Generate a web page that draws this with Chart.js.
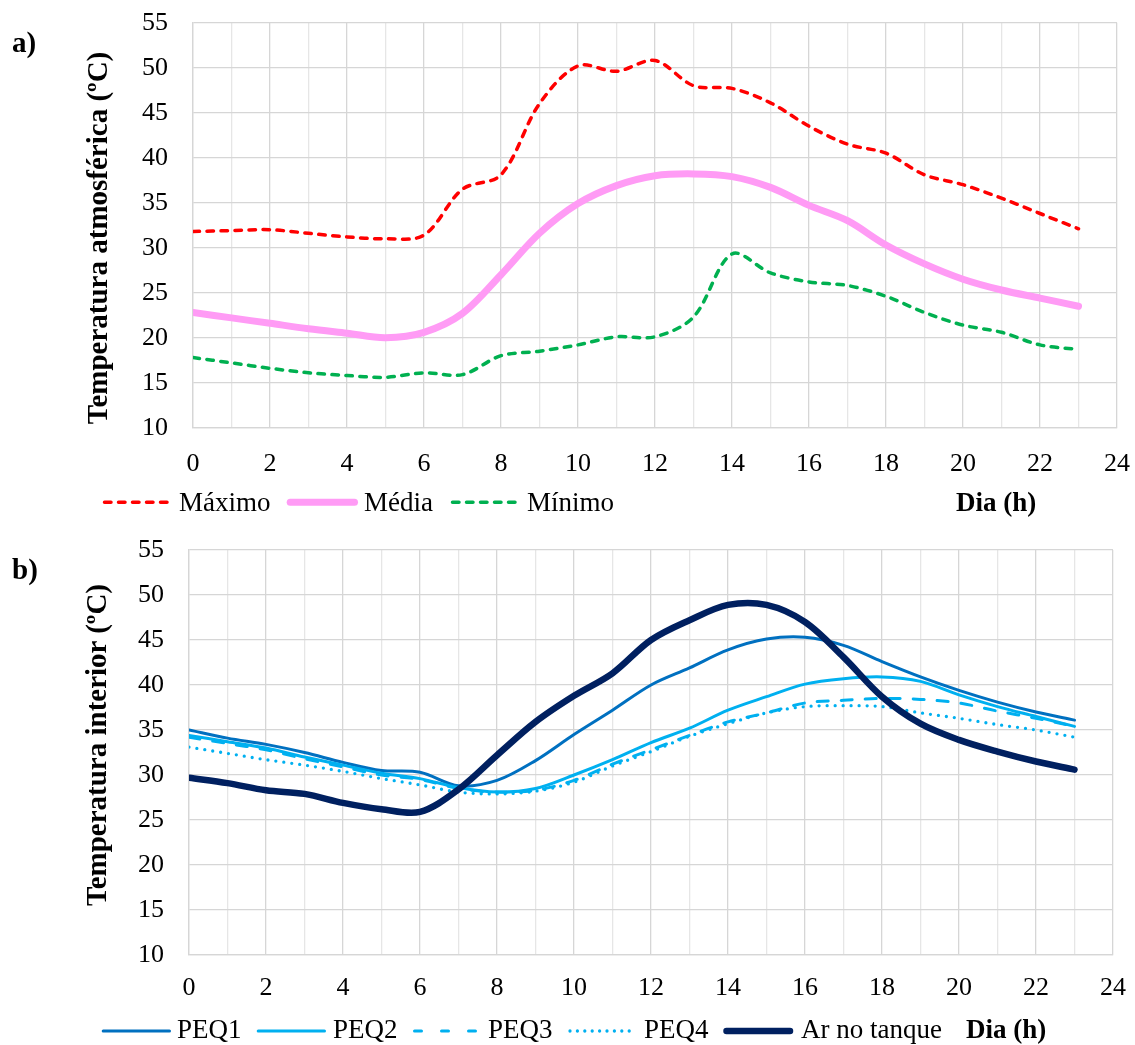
<!DOCTYPE html>
<html><head><meta charset="utf-8">
<script src="https://cdn.jsdelivr.net/npm/chart.js@4.4.1/dist/chart.umd.min.js"></script>
<style>
html,body{margin:0;padding:0;background:#fff;}
body{width:1135px;height:1045px;position:relative;overflow:hidden;font-family:'Liberation Serif','Times New Roman',serif;color:#000;}
canvas{position:absolute;left:0;}
.t{position:absolute;white-space:nowrap;line-height:1;}
.lab{font-size:29px;font-weight:bold;}
.leg{font-size:27px;}
.bold{font-weight:bold;}
.ytitle{font-size:29px;font-weight:bold;transform:translate(-50%,-50%) rotate(-90deg);}
svg{position:absolute;left:0;top:0;pointer-events:none;}
</style></head><body>
<canvas id="cA" width="1135" height="490" style="top:0px"></canvas>
<canvas id="cB" width="1135" height="520" style="top:500px"></canvas>

<div class="t lab" style="left:12px;top:28px">a)</div>
<div class="t lab" style="left:12px;top:555px">b)</div>
<div class="t ytitle" style="left:97px;top:238px">Temperatura atmosférica (ºC)</div>
<div class="t ytitle" style="left:96px;top:745px">Temperatura interior (ºC)</div>

<svg width="1135" height="1045">
  <line x1="104.5" y1="502.3" x2="171" y2="502.3" stroke="#FF0000" stroke-width="3.5" stroke-dasharray="6.5 7.5" stroke-linecap="round"/>
  <line x1="290.2" y1="502.3" x2="354.5" y2="502.3" stroke="#FF9BF5" stroke-width="7" stroke-linecap="round"/>
  <line x1="452.5" y1="502.3" x2="519" y2="502.3" stroke="#00B050" stroke-width="3.5" stroke-dasharray="6.5 7.5" stroke-linecap="round"/>

  <line x1="103.2" y1="1031" x2="169.5" y2="1031" stroke="#0070C0" stroke-width="3" stroke-linecap="round"/>
  <line x1="258.2" y1="1031" x2="324.5" y2="1031" stroke="#00B0F0" stroke-width="3" stroke-linecap="round"/>
  <line x1="414.5" y1="1031" x2="480.2" y2="1031" stroke="#00B0F0" stroke-width="3" stroke-dasharray="7 20" stroke-linecap="round"/>
  <line x1="570" y1="1031" x2="636" y2="1031" stroke="#00B0F0" stroke-width="3.3" stroke-dasharray="0 7.4" stroke-linecap="round"/>
  <line x1="726.5" y1="1031" x2="790" y2="1031" stroke="#002060" stroke-width="6.5" stroke-linecap="round"/>
</svg>

<div class="t leg" style="left:179px;top:489px">Máximo</div>
<div class="t leg" style="left:364px;top:489px">Média</div>
<div class="t leg" style="left:527px;top:489px">Mínimo</div>
<div class="t leg bold" style="left:956px;top:489px">Dia (h)</div>

<div class="t leg" style="left:177px;top:1016px">PEQ1</div>
<div class="t leg" style="left:333px;top:1016px">PEQ2</div>
<div class="t leg" style="left:488px;top:1016px">PEQ3</div>
<div class="t leg" style="left:644px;top:1016px">PEQ4</div>
<div class="t leg" style="left:801px;top:1016px">Ar no tanque</div>
<div class="t leg bold" style="left:966px;top:1016px">Dia (h)</div>

<script>
// ---- data ----
const hours = [0,1,2,3,4,5,6,7,8,9,10,11,12,13,14,15,16,17,18,19,20,21,22,23];
const seriesNamesA = ['Máximo','Média','Mínimo'];
const maximo = [31.8,31.9,32.0,31.6,31.2,31.0,31.4,36.5,38.1,46.0,50.2,49.6,50.8,48.0,47.7,46.1,43.5,41.5,40.5,38.1,37.0,35.5,33.8,32.1];
const media  = [22.8,22.2,21.6,21.0,20.5,20.0,20.6,22.7,27.0,31.6,34.9,36.9,38.0,38.2,37.9,36.7,34.7,33.0,30.3,28.2,26.5,25.3,24.4,23.5];
const minimo = [17.8,17.2,16.6,16.1,15.8,15.6,16.1,15.9,18.0,18.5,19.2,20.1,20.1,22.3,29.3,27.2,26.2,25.8,24.6,22.8,21.4,20.6,19.2,18.7];

const seriesNamesB = ['PEQ1','PEQ2','PEQ3','PEQ4','Ar no tanque'];
const peq1 = [35.0,34.1,33.4,32.5,31.4,30.5,30.3,28.8,29.4,31.6,34.5,37.2,40.0,41.9,43.9,45.1,45.3,44.4,42.6,40.9,39.4,38.1,37.0,36.1];
const peq2 = [34.4,33.7,33.0,32.0,31.1,30.2,29.6,28.6,28.1,28.5,30.0,31.7,33.6,35.2,37.2,38.7,40.1,40.7,40.9,40.4,38.9,37.6,36.5,35.4];
const peq3 = [34.2,33.5,32.8,31.8,30.9,30.0,29.5,28.5,28.1,28.3,29.4,31.2,32.8,34.4,35.9,36.9,38.0,38.3,38.5,38.4,38.0,37.1,36.3,35.4];
const peq4 = [33.1,32.4,31.7,31.1,30.4,29.6,28.9,28.1,27.9,28.2,29.2,31.0,32.6,34.3,35.7,36.9,37.6,37.7,37.6,36.9,36.3,35.6,35.0,34.2];
const arTanque = [29.7,29.1,28.3,27.9,26.9,26.2,25.9,28.4,32.2,35.9,38.8,41.3,45.0,47.2,48.9,48.9,47.0,43.1,38.7,35.7,33.9,32.6,31.5,30.6];

const xMin = 0, xMax = 24, xStep = 1, xLabelEvery = 2;
const yMin = 10, yMax = 55, yStep = 5;

// ---- helpers ----
function pts(arr){ return arr.map((v,i)=>({x:hours[i], y:v})); }
const FONT = "'Liberation Serif','Times New Roman',serif";

function makeChart(id, datasets, area){
  const n = datasets.length;
  datasets.forEach((d,i)=>{ d.order = n - i; d.pointRadius = 0; d.fill = false; d.borderJoinStyle='round'; });
  return new Chart(document.getElementById(id), {
    type:'line',
    data:{datasets},
    options:{
      responsive:false, animation:false,
      layout:{padding:{left:0,right:area.right,top:area.top,bottom:0}},
      plugins:{legend:{display:false}, tooltip:{enabled:false}},
      elements:{line:{tension:0.33}},
      scales:{
        x:{type:'linear', min:xMin, max:xMax,
           ticks:{stepSize:xStep, autoSkip:false, maxRotation:0, padding:0, color:'#000',
                  font:{family:FONT,size:26},
                  callback:v=> (v % xLabelEvery === 0) ? String(v) : ''},
           grid:{color:c=> (c.tick && c.tick.value % 2) ? '#E6E6E6' : '#D6D6D6', lineWidth:1.3,
                 drawTicks:true, tickLength:area.xgap, tickColor:'rgba(0,0,0,0)'},
           border:{color:'#D6D6D6', width:1.3},
           afterFit:s=>{ s.height = area.xh; }},
        y:{min:yMin, max:yMax,
           ticks:{stepSize:yStep, padding:0, color:'#000', font:{family:FONT,size:26}},
           grid:{color:'#D6D6D6', lineWidth:1.3, drawTicks:true, tickLength:25, tickColor:'rgba(0,0,0,0)'},
           border:{color:'#D6D6D6', width:1.3},
           afterFit:s=>{ s.width = area.yw; }}
      }
    }
  });
}

makeChart('cA', [
  {label:seriesNamesA[0], data:pts(maximo), borderColor:'#FF0000', borderWidth:3.5, borderDash:[6.5,7.5], borderCapStyle:'round'},
  {label:seriesNamesA[1], data:pts(media), borderColor:'#FF9BF5', borderWidth:7, borderCapStyle:'round'},
  {label:seriesNamesA[2], data:pts(minimo), borderColor:'#00B050', borderWidth:3.5, borderDash:[6.5,7.5], borderCapStyle:'round'}
], {right:18, top:22.7, xh:62.3, yw:193, xgap:21});

makeChart('cB', [
  {label:seriesNamesB[0], data:pts(peq1), borderColor:'#0070C0', borderWidth:3, borderCapStyle:'round'},
  {label:seriesNamesB[1], data:pts(peq2), borderColor:'#00B0F0', borderWidth:3, borderCapStyle:'round'},
  {label:seriesNamesB[2], data:pts(peq3), borderColor:'#00B0F0', borderWidth:3, borderDash:[11,13], borderCapStyle:'round'},
  {label:seriesNamesB[3], data:pts(peq4), borderColor:'#00B0F0', borderWidth:3.3, borderDash:[0,8], borderCapStyle:'round'},
  {label:seriesNamesB[4], data:pts(arTanque), borderColor:'#002060', borderWidth:6.5, borderCapStyle:'round'}
], {right:22, top:50, xh:65, yw:189, xgap:18});
</script>
</body></html>
